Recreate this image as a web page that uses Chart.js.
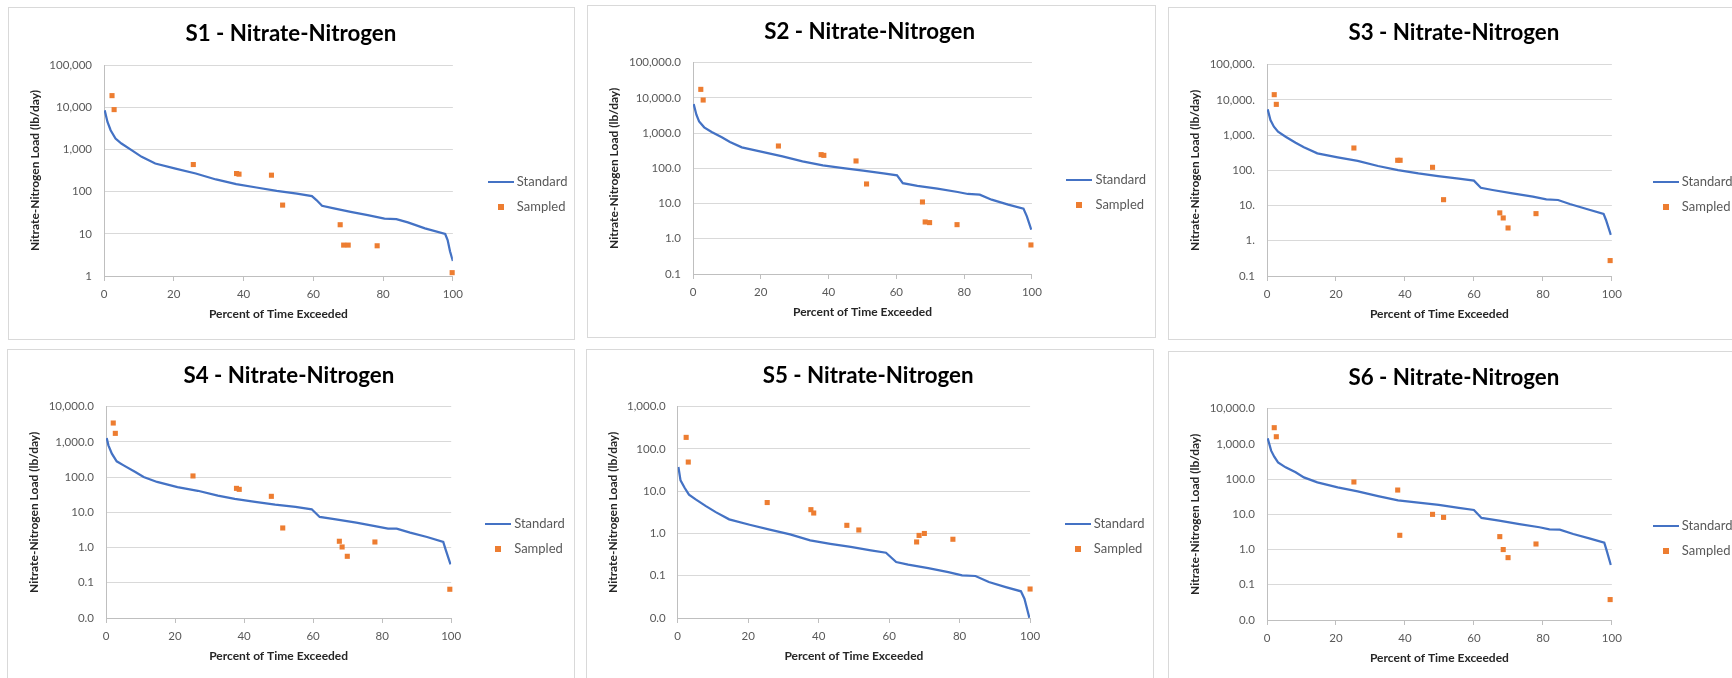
<!DOCTYPE html>
<html>
<head>
<meta charset="utf-8">
<script src="https://cdn.jsdelivr.net/npm/chart.js@4.4.1/dist/chart.umd.min.js"></script>
<style>
  html, body { margin: 0; padding: 0; background: #fff; width: 1732px; height: 678px; overflow: hidden; position: relative; }
  canvas { position: absolute; }
  .frame { position: absolute; border: 1px solid #d9d9d9; box-sizing: border-box; pointer-events: none; }
</style>
</head>
<body>
<script>
// ---- data ----
const pctTicks = [0, 20, 40, 60, 80, 100];

const s1StdPct  = [0.2, 1.0, 1.9, 3.3, 5.0, 7.9, 10.8, 14.7, 20.5, 26.3, 32.1, 37.9, 43.7, 49.5, 55.3, 59.6, 60.9, 62.5, 65.9, 70.7, 75.6, 80.4, 83.8, 87.1, 92.0, 97.8, 98.5, 99.2, 100];
const s1StdLoad = [8450, 4480, 2840, 1810, 1380, 958, 666, 463, 352, 268, 194, 150, 125, 104, 90, 78, 63, 46, 40, 33, 27.7, 23, 22.3, 18.6, 13.4, 9.9, 7.1, 3.8, 2.26];
const s1SmpPct  = [2.3, 2.9, 25.6, 38.0, 38.7, 48.0, 51.2, 67.7, 68.7, 70.0, 78.3, 99.8];
const s1SmpLoad = [18800, 8770, 438, 268, 259, 245, 47.9, 16.4, 5.4, 5.4, 5.2, 1.2];

const s2StdPct  = [0.2, 1.0, 1.8, 3.3, 5.5, 8.5, 10.9, 14.4, 20.4, 26.4, 32.3, 38.3, 44.3, 50.2, 56.2, 60.2, 61.9, 66.2, 72.1, 78.1, 81.1, 84.6, 88.1, 93.0, 97.5, 98.5, 99.8];
const s2StdLoad = [6710, 3340, 2160, 1460, 1077, 760, 560, 395, 292, 220, 158, 122, 102, 86, 72, 63, 38, 32, 26.5, 21.3, 18.7, 17.9, 12.9, 9.3, 7.2, 4.35, 1.82];
const s2SmpPct  = [2.3, 3.0, 25.2, 37.8, 38.6, 48.1, 51.2, 67.7, 68.5, 69.8, 77.9, 99.7];
const s2SmpLoad = [17500, 8710, 431, 245, 234, 162, 36, 11.1, 3.0, 2.88, 2.52, 0.668];

const s3StdPct  = [0.2, 1.0, 2.0, 3.2, 5.4, 8.3, 10.7, 14.6, 20.5, 26.3, 32.2, 38.0, 43.9, 49.6, 55.6, 60.0, 62.0, 65.4, 71.2, 77.1, 81.0, 84.4, 87.8, 92.7, 97.6, 98.3, 99.7];
const s3StdLoad = [5400, 2690, 1740, 1254, 904, 611, 451, 304, 234, 185, 133, 102, 82, 69, 58, 51, 32, 27.7, 22.3, 17.9, 15.1, 14.4, 11.1, 8.0, 5.8, 3.9, 1.47];
const s3SmpPct  = [2.1, 2.7, 25.2, 37.9, 38.6, 48.0, 51.2, 67.5, 68.5, 69.9, 78.0, 99.5];
const s3SmpLoad = [14100, 7480, 431, 193, 193, 122, 14.7, 6.2, 4.45, 2.31, 5.9, 0.274];

const s4StdPct  = [0.2, 0.7, 1.7, 3.1, 5.1, 8.5, 10.9, 14.8, 20.7, 26.6, 32.4, 37.3, 43.2, 49.0, 54.9, 59.6, 61.9, 66.6, 72.5, 78.3, 81.7, 84.2, 88.1, 93.0, 97.7, 98.3, 99.8];
const s4StdLoad = [1290, 800, 463, 281, 216, 140, 101, 73, 52, 41, 30, 24, 19.7, 16.5, 14.2, 12.2, 7.4, 6.3, 5.1, 4.0, 3.44, 3.44, 2.65, 2.0, 1.44, 0.93, 0.335];
const s4SmpPct  = [2.1, 2.7, 25.2, 37.8, 38.6, 47.9, 51.2, 67.6, 68.4, 69.9, 77.9, 99.6];
const s4SmpLoad = [3440, 1750, 108, 48, 45, 28.5, 3.6, 1.51, 1.04, 0.565, 1.44, 0.0655];

const s5StdPct  = [0.2, 0.8, 2.0, 3.2, 5.1, 7.9, 10.8, 14.6, 20.4, 26.1, 31.9, 37.6, 43.3, 49.1, 54.8, 59.1, 62.0, 65.4, 71.1, 76.8, 80.7, 84.5, 88.3, 93.1, 97.4, 98.4, 99.8];
const s5StdLoad = [37.4, 18.1, 11.9, 8.3, 6.4, 4.5, 3.2, 2.16, 1.61, 1.23, 0.95, 0.69, 0.57, 0.48, 0.40, 0.35, 0.211, 0.183, 0.152, 0.122, 0.102, 0.0986, 0.071, 0.054, 0.0428, 0.0287, 0.0101];
const s5SmpPct  = [2.4, 3.0, 25.4, 37.8, 38.6, 48.0, 51.4, 67.8, 68.5, 70.0, 78.1, 100];
const s5SmpLoad = [188, 49, 5.4, 3.66, 3.05, 1.56, 1.21, 0.63, 0.90, 1.0, 0.73, 0.0485];

const s6StdPct  = [0.2, 1.2, 2.1, 3.2, 5.4, 8.3, 10.7, 14.6, 20.5, 26.3, 32.2, 38.0, 43.9, 49.8, 55.6, 60.0, 62.2, 67.3, 73.2, 79.0, 81.9, 84.9, 88.8, 93.7, 97.8, 98.5, 99.7];
const s6StdLoad = [1440, 643, 434, 300, 216, 156, 112, 81, 58, 45, 33, 25, 21.5, 18.5, 15.2, 13.3, 7.9, 6.6, 5.3, 4.3, 3.76, 3.68, 2.77, 2.04, 1.57, 0.93, 0.366];
const s6SmpPct  = [2.1, 2.7, 25.2, 37.9, 38.5, 48.0, 51.2, 67.5, 68.5, 69.9, 78.0, 99.5];
const s6SmpLoad = [2890, 1600, 83, 49, 2.54, 10.0, 8.2, 2.33, 1.0, 0.59, 1.44, 0.038];

// y-axis ticks, top to bottom
const yVals5  = [100000, 10000, 1000, 100, 10, 1];
const yVals6  = [100000, 10000, 1000, 100, 10, 1, 0.1];
const yVals6b = [10000, 1000, 100, 10, 1, 0.1, 0.01];
const yVals5b = [1000, 100, 10, 1, 0.1, 0.01];
const s1Labels = ['100,000', '10,000', '1,000', '100', '10', '1'];
const s2Labels = ['100,000.0', '10,000.0', '1,000.0', '100.0', '10.0', '1.0', '0.1'];
const s3Labels = ['100,000.', '10,000.', '1,000.', '100.', '10.', '1.', '0.1'];
const s4Labels = ['10,000.0', '1,000.0', '100.0', '10.0', '1.0', '0.1', '0.0'];
const s5Labels = ['1,000.0', '100.0', '10.0', '1.0', '0.1', '0.0'];
const s6Labels = ['10,000.0', '1,000.0', '100.0', '10.0', '1.0', '0.1', '0.0'];

// ---- look ----
const BLUE = '#4472c4';
const ORANGE = '#ed7d31';
const TICK = '#595959';
const AXIS_TITLE = '#262626';
const FAMILY = "Lato, 'Liberation Sans', sans-serif";
const TITLE_SIZE = 22.3;
const LEG_FONT = 13, LEG_PAD = 12, LEG_SYM = 19;

Chart.defaults.font.family = FAMILY;
Chart.defaults.color = TICK;

function icon(kind) {
  const c = document.createElement('canvas');
  const g = c.getContext('2d');
  if (kind === 'line') {
    c.width = 26; c.height = 2;
    g.fillStyle = BLUE; g.fillRect(0, 0, 26, 2);
  } else {
    c.width = 6; c.height = 6;
    g.fillStyle = ORANGE; g.fillRect(0, 0, 6, 6);
  }
  return c;
}
const lineIcon = icon('line');
const squareIcon = icon('square');

const pts = (xs, ys) => xs.map((x, i) => ({ x, y: ys[i] }));

const panels = [
  { title: 'S1 - Nitrate-Nitrogen', box: [8, 7, 567, 333],   plot: [104, 65, 449, 276],     titleY: 34.3,  legX: 484,    legY: 182.3,
    std: pts(s1StdPct, s1StdLoad), smp: pts(s1SmpPct, s1SmpLoad), yv: yVals5,  yl: s1Labels },
  { title: 'S2 - Nitrate-Nitrogen', box: [587, 5, 569, 333], plot: [693, 62.7, 1028, 274],  titleY: 32.3,  legX: 1062.5, legY: 180,
    std: pts(s2StdPct, s2StdLoad), smp: pts(s2SmpPct, s2SmpLoad), yv: yVals6,  yl: s2Labels },
  { title: 'S3 - Nitrate-Nitrogen', box: [1168, 7, 575, 333], plot: [1267, 64.7, 1609, 276], titleY: 33.3, legX: 1650,   legY: 181.7,
    std: pts(s3StdPct, s3StdLoad), smp: pts(s3SmpPct, s3SmpLoad), yv: yVals6,  yl: s3Labels },
  { title: 'S4 - Nitrate-Nitrogen', box: [7, 349, 568, 340], plot: [106, 406.7, 447, 618],  titleY: 376,   legX: 481,    legY: 524,
    std: pts(s4StdPct, s4StdLoad), smp: pts(s4SmpPct, s4SmpLoad), yv: yVals6b, yl: s4Labels },
  { title: 'S5 - Nitrate-Nitrogen', box: [586, 349, 568, 340], plot: [677.7, 406.7, 1026, 618], titleY: 376, legX: 1060.7, legY: 524,
    std: pts(s5StdPct, s5StdLoad), smp: pts(s5SmpPct, s5SmpLoad), yv: yVals5b, yl: s5Labels },
  { title: 'S6 - Nitrate-Nitrogen', box: [1168, 351, 575, 340], plot: [1267, 408.7, 1609, 620], titleY: 378.3, legX: 1650, legY: 525.7,
    std: pts(s6StdPct, s6StdLoad), smp: pts(s6SmpPct, s6SmpLoad), yv: yVals6b, yl: s6Labels },
];

function legendTextWidth() {
  const g = document.createElement('canvas').getContext('2d');
  g.font = LEG_FONT + 'px ' + FAMILY;
  return Math.max(g.measureText('Standard').width, g.measureText('Sampled').width);
}

function makePanel(p) {
  const [bl, bt, W, H] = p.box;
  const pl = p.plot[0] - bl, pt = p.plot[1] - bt, pr = p.plot[2] - bl, pb = p.plot[3] - bt;

  const canvas = document.createElement('canvas');
  canvas.width = W; canvas.height = H;
  canvas.style.left = bl + 'px'; canvas.style.top = bt + 'px';
  document.body.appendChild(canvas);
  const frame = document.createElement('div');
  frame.className = 'frame';
  Object.assign(frame.style, { left: bl + 'px', top: bt + 'px', width: W + 'px', height: H + 'px' });
  document.body.appendChild(frame);

  // chart title block ends where the plot starts
  const titleLH = TITLE_SIZE * 1.2;
  const titlePadTop = p.titleY - bt - titleLH / 2;
  const titlePadBottom = pt - titlePadTop - titleLH;

  // legend at its natural width, pushed away from the plot by an empty right axis
  const itemX = p.legX - bl + (26 - LEG_SYM) / 2;
  const legLeft = itemX - LEG_PAD;
  const legWidth = LEG_PAD + LEG_SYM + LEG_FONT / 2 + legendTextWidth() + 10;
  const rightPad = Math.max(0, W - legLeft - legWidth);
  const gapWidth = legLeft - pr;
  const itemTop = p.legY - bt - LEG_FONT / 2;
  const colH = 2 * (LEG_FONT + LEG_PAD);
  const legTitleH = 2 * itemTop - LEG_PAD - H + colH;

  const xTitlePadBottom = (H - pb) - 38.5 - 12 * 1.2 / 2;

  new Chart(canvas, {
    type: 'scatter',
    data: {
      datasets: [
        { type: 'line', label: 'Standard', data: p.std, borderColor: BLUE, backgroundColor: BLUE,
          borderWidth: 2.25, pointRadius: 0, tension: 0, order: 1 },
        { type: 'scatter', label: 'Sampled', data: p.smp, pointStyle: 'rect', pointRadius: 3.6,
          pointBackgroundColor: ORANGE, pointBorderWidth: 0, clip: false, order: 0 },
      ],
    },
    options: {
      responsive: false,
      animation: false,
      events: [],
      layout: { padding: { left: 0, top: 0, bottom: 0, right: rightPad } },
      plugins: {
        title: {
          display: true,
          text: p.title,
          color: '#000',
          font: { size: TITLE_SIZE, weight: 'bold', lineHeight: 1.2 },
          padding: { top: titlePadTop, bottom: titlePadBottom },
        },
        legend: {
          position: 'right',
          title: { display: true, text: '', font: { size: 10, lineHeight: 1 }, padding: { top: legTitleH - 10, bottom: 0 } },
          labels: {
            usePointStyle: true,
            pointStyleWidth: LEG_SYM,
            padding: LEG_PAD,
            color: TICK,
            font: { size: LEG_FONT },
            sort: (a, b) => a.datasetIndex - b.datasetIndex,
            generateLabels: chart => Chart.defaults.plugins.legend.labels.generateLabels(chart)
              .map(item => Object.assign(item, { pointStyle: item.datasetIndex === 0 ? lineIcon : squareIcon })),
          },
        },
        tooltip: { enabled: false },
      },
      scales: {
        x: {
          type: 'linear',
          min: 0,
          max: 100,
          afterBuildTicks: s => { s.ticks = pctTicks.map(v => ({ value: v })); },
          afterFit: s => { s.height = H - pb; },
          ticks: { padding: 6, color: TICK, font: { size: 11.5 }, maxRotation: 0 },
          grid: { drawOnChartArea: false, drawTicks: true, tickLength: 5, color: '#bfbfbf' },
          border: { display: true, color: '#bfbfbf' },
          title: { display: true, text: 'Percent of Time Exceeded', color: AXIS_TITLE,
                   font: { size: 12, weight: 'bold' }, padding: { top: 0, bottom: xTitlePadBottom } },
        },
        y: {
          type: 'logarithmic',
          min: p.yv[p.yv.length - 1],
          max: p.yv[0],
          afterBuildTicks: s => { s.ticks = p.yv.slice().reverse().map(v => ({ value: v })); },
          afterFit: s => { s.width = pl; },
          ticks: { padding: 12, color: TICK, font: { size: 11.5 }, autoSkip: false,
                   callback: v => p.yl[p.yv.indexOf(v)] },
          grid: { color: '#d9d9d9', drawTicks: false },
          border: { display: true, color: '#bfbfbf' },
          title: { display: true, text: 'Nitrate-Nitrogen Load (lb/day)', color: AXIS_TITLE,
                   font: { size: 12, weight: 'bold' }, padding: { top: 27 - 7.2, bottom: 0 } },
        },
        gap: {
          type: 'linear',
          position: 'right',
          afterFit: s => { s.width = gapWidth; },
          grid: { display: false },
          border: { display: false },
          ticks: { display: false },
        },
      },
    },
  });
}

Promise.all([
  document.fonts.load('bold 22px Lato'),
  document.fonts.load('13px Lato'),
]).catch(() => {}).then(() => panels.forEach(makePanel));
</script>
</body>
</html>
